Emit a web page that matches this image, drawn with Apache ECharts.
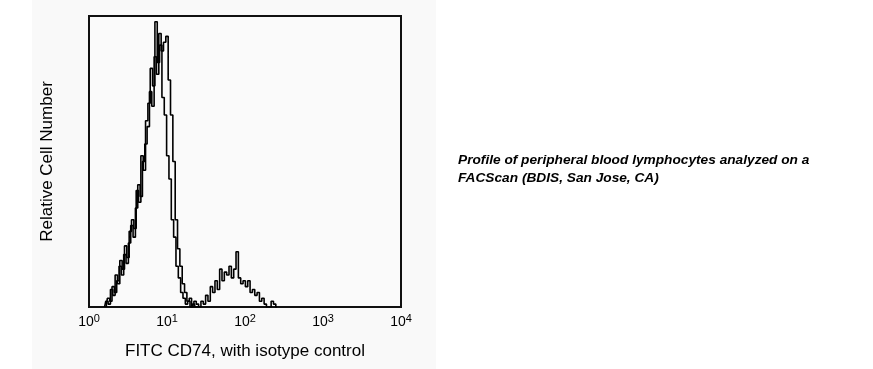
<!DOCTYPE html>
<html>
<head>
<meta charset="utf-8">
<script src="https://cdn.jsdelivr.net/npm/echarts@6/dist/echarts.min.js"></script>
<style>
html,body{margin:0;padding:0;background:#ffffff;}
#chart{width:873px;height:369px;}
</style>
</head>
<body>
<div id="chart"></div>
<script>
// x values are log10 of fluorescence intensity (decades)
const xTicks = [0, 1, 2, 3, 4];
const xTickLabels = ['0', '1', '2', '3', '4'];

const isotypeX = [0.20,0.23,0.26,0.29,0.32,0.35,0.38,0.41,0.44,0.47,0.50,0.53,0.56,0.59,0.62,0.65,0.68,0.71,0.74,0.77,0.80,0.83,0.86,0.89,0.92,0.95,0.98,1.01,1.04,1.07,1.10,1.13,1.16,1.19,1.22,1.25,1.28,1.31,1.34,1.37,1.40];
const isotypeY = [0,2,1,6,4,11,8,16,13,21,17,26,30,27,40,36,52,47,64,70,82,76,98,84,90,72,66,52,44,30,24,14,10,5,3,1,2,0,1,0,0];

const cd74X = [0.22,0.25,0.28,0.31,0.34,0.37,0.40,0.43,0.46,0.49,0.52,0.55,0.58,0.61,0.64,0.67,0.70,0.73,0.76,0.79,0.82,0.85,0.88,0.91,0.94,0.97,1.00,1.03,1.06,1.09,1.12,1.15,1.18,1.21,1.24,1.27,1.30,1.33,1.36,1.39,1.42,1.45,1.48,1.51,1.54,1.57,1.60,1.63,1.66,1.69,1.72,1.75,1.78,1.81,1.84,1.87,1.90,1.93,1.96,1.99,2.02,2.05,2.08,2.11,2.14,2.17,2.20,2.23,2.26,2.29,2.32,2.35,2.38,2.41];
const cd74Y = [0,3,2,7,5,9,14,11,18,15,22,28,24,34,42,38,50,56,62,74,69,86,80,94,88,91,93,78,66,50,30,20,14,8,5,2,3,0,2,1,0,2,1,4,2,7,5,9,6,13,9,12,11,14,10,13,19,10,8,9,7,9,5,6,4,5,2,3,1,0,0,2,1,0];

const xName = 'FITC CD74, with isotype control';
const yName = 'Relative Cell Number';
const caption = 'Profile of peripheral blood lymphocytes analyzed on a\nFACScan (BDIS, San Jose, CA)';

const zip = (xs, ys) => xs.map((x, i) => [x, ys[i]]);

const chart = echarts.init(document.getElementById('chart'), null, {renderer: 'canvas'});
chart.setOption({
  animation: false,
  backgroundColor: '#ffffff',
  textStyle: {fontFamily: 'Liberation Sans, Arial, sans-serif'},
  graphic: [{
    type: 'rect', silent: true, z: -10,
    shape: {x: 32, y: 0, width: 404, height: 369},
    style: {fill: '#f9f9f9'}
  }],
  title: {
    text: caption,
    left: 453, top: 146,
    textStyle: {fontSize: 13.7, fontWeight: 'bold', fontStyle: 'italic', color: '#000', lineHeight: 18, fontFamily: 'Liberation Sans, Arial, sans-serif'}
  },
  grid: {
    left: 89, top: 16, width: 312, height: 291,
    show: true, borderColor: '#111', borderWidth: 2, backgroundColor: '#fafafa'
  },
  xAxis: {
    type: 'value', min: 0, max: 4, interval: 1,
    axisLine: {show: false}, axisTick: {show: false}, splitLine: {show: false},
    axisLabel: {
      margin: 6,
      formatter: v => '10{s|' + xTickLabels[xTicks.indexOf(v)] + '}',
      color: '#000', fontSize: 14,
      rich: {s: {fontSize: 11, color: '#000', padding: [0, 0, 8, 0], verticalAlign: 'bottom'}}
    },
    name: xName, nameLocation: 'middle', nameGap: 36,
    nameTextStyle: {fontSize: 17, color: '#000'}
  },
  yAxis: {
    type: 'value', min: 0, max: 100,
    axisLine: {show: false}, axisTick: {show: false}, splitLine: {show: false},
    axisLabel: {show: false},
    name: yName, nameLocation: 'middle', nameGap: 33,
    nameTextStyle: {fontSize: 17, color: '#000'}
  },
  series: [
    {type: 'line', name: 'Isotype control', data: zip(isotypeX, isotypeY), step: 'middle', showSymbol: false,
     lineStyle: {color: '#000', width: 1.6}},
    {type: 'line', name: 'CD74', data: zip(cd74X, cd74Y), step: 'middle', showSymbol: false,
     lineStyle: {color: '#000', width: 1.6}}
  ]
});
</script>
</body>
</html>
